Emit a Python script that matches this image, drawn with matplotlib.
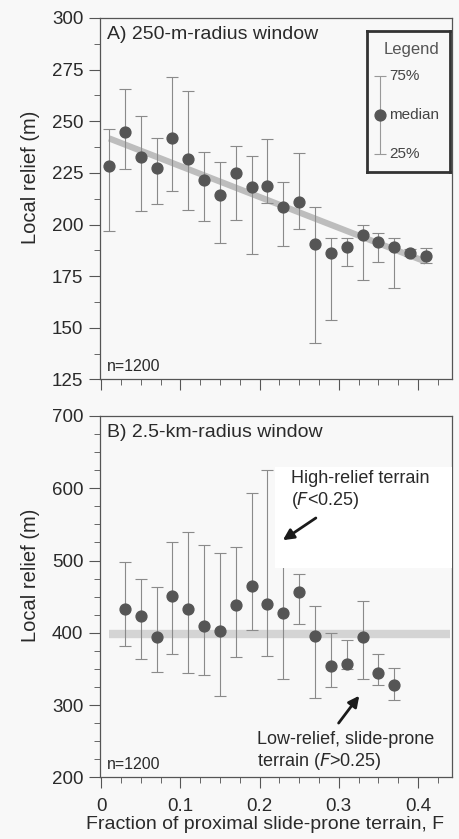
import matplotlib
matplotlib.use("Agg")
import matplotlib.pyplot as plt
from matplotlib.ticker import MultipleLocator
from matplotlib.patches import Rectangle

plt.rcParams['font.family'] = ['Liberation Sans', 'DejaVu Sans']

# ---------------- data ----------------
A_x = [0.01, 0.03, 0.05, 0.07, 0.09, 0.11, 0.13, 0.15, 0.17, 0.19, 0.21,
       0.23, 0.25, 0.27, 0.29, 0.31, 0.33, 0.35, 0.37, 0.39, 0.41]
A_med = [228.5, 245, 232.5, 227.2, 241.7, 231.9, 221.5, 214.1, 224.8, 218.4, 218.7,
         208.6, 211, 190.8, 186.2, 189.3, 194.7, 191.7, 189.1, 186.2, 185]
A_q75 = [246.4, 265.7, 252.6, 241.9, 271.5, 264.7, 235, 230.2, 238, 233.3, 241.3,
         220.4, 234.5, 208.6, 193.7, 193.3, 200, 196, 193.5, 188, 188.8]
A_q25 = [196.7, 227, 206.5, 209.9, 216, 207, 201.5, 191.3, 202.1, 185.7, 210.2,
         189.5, 197.6, 142.5, 153.7, 179.9, 173, 182, 169.4, 185, 181.2]
A_trend_x = [0.01, 0.41]
A_trend_y = [241.7, 182.0]

B_x = [0.03, 0.05, 0.07, 0.09, 0.11, 0.13, 0.15, 0.17, 0.19, 0.21, 0.23,
       0.25, 0.27, 0.29, 0.31, 0.33, 0.35, 0.37]
B_med = [433.1, 423.8, 394.3, 451.5, 433.1, 410, 402.6, 439.1, 464.5, 440.4, 428,
         457.1, 395.7, 354.6, 357.3, 394.3, 344.9, 327.8]
B_q75 = [498.6, 475, 463.6, 526.3, 539.3, 521.7, 510.2, 518.5, 593.3, 625.6, 540,
         482, 437.3, 399.9, 390.2, 444.6, 370.3, 351]
B_q25 = [381.4, 363.4, 345.4, 371.2, 344.9, 341.3, 312.6, 366.6, 404, 368.4, 335.7,
         412.7, 309.8, 325, 350.4, 336.2, 328.3, 307.5]
B_band_x = [0.01, 0.44]
B_band_y = [398, 398]

n_label = "n=1200"
x_ticks = [0, 0.1, 0.2, 0.3, 0.4]
x_ticklabels = ["0", "0.1", "0.2", "0.3", "0.4"]

# ---------------- style ----------------
BG = '#f8f8f8'
MARK = '#555555'
ERR = '#8a8a8a'
TXT = '#2a2a2a'

fig = plt.figure(figsize=(4.6, 8.39), dpi=100, facecolor=BG)
axA = fig.add_axes([0.2174, 0.5477, 0.7652, 0.4309], facecolor=BG)
axB = fig.add_axes([0.2174, 0.0735, 0.7652, 0.4307], facecolor=BG)

XLIM = (-0.0015, 0.443)


def style_axis(ax, ymaj, ymin):
    ax.set_xlim(*XLIM)
    ax.xaxis.set_major_locator(plt.FixedLocator(x_ticks))
    ax.xaxis.set_minor_locator(MultipleLocator(0.025))
    ax.yaxis.set_major_locator(MultipleLocator(ymaj))
    ax.yaxis.set_minor_locator(MultipleLocator(ymin))
    ax.tick_params(which='major', direction='out', length=8, width=0.8, color='#555555',
                   labelsize=13.5, labelcolor=TXT, pad=4)
    ax.tick_params(axis='x', which='major', pad=7)
    ax.tick_params(which='minor', direction='out', length=4, width=0.7, color='#666666')
    for s in ax.spines.values():
        s.set_color('#555555')
        s.set_linewidth(0.9)


def draw_points(ax, xs, med, q75, q25):
    lower = [m - l for m, l in zip(med, q25)]
    upper = [u - m for m, u in zip(med, q75)]
    ax.errorbar(xs, med, yerr=[lower, upper], fmt='none', ecolor=ERR,
                elinewidth=0.8, capsize=4, capthick=0.8, zorder=3)
    ax.plot(xs, med, 'o', color=MARK, markersize=7.8, zorder=4)


# ---------------- Panel A ----------------
style_axis(axA, 25, 12.5)
axA.set_ylim(125, 300)
axA.plot(A_trend_x, A_trend_y, color='#bdbdbd', lw=4.5, solid_capstyle='butt', zorder=2)
draw_points(axA, A_x, A_med, A_q75, A_q25)
axA.tick_params(axis='x', labelbottom=False)
axA.set_ylabel('Local relief (m)', fontsize=14.5, color=TXT)
axA.yaxis.set_label_coords(-0.17, 0.56)
axA.text(0.02, 0.978, 'A) 250-m-radius window', transform=axA.transAxes,
         fontsize=14, color=TXT, va='top', ha='left')
axA.text(0.02, 0.015, n_label, transform=axA.transAxes, fontsize=11.5,
         color=TXT, va='bottom', ha='left')

# legend box
lg = axA.inset_axes([0.758, 0.575, 0.236, 0.389])
lg.set_xlim(0, 1)
lg.set_ylim(0, 1)
lg.set_facecolor(BG)
lg.set_xticks([])
lg.set_yticks([])
for s in lg.spines.values():
    s.set_color('#333333')
    s.set_linewidth(2.0)
lg.text(0.54, 0.865, 'Legend', ha='center', va='center', fontsize=12, color='#555555')
lg.errorbar([0.16], [0.40], yerr=[[0.274], [0.28]], fmt='none', ecolor='#999999',
            elinewidth=0.8, capsize=4, capthick=0.8)
lg.plot([0.16], [0.40], 'o', color=MARK, markersize=7.8)
lg.text(0.27, 0.68, '75%', ha='left', va='center', fontsize=11, color='#444444')
lg.text(0.27, 0.40, 'median', ha='left', va='center', fontsize=11, color='#444444')
lg.text(0.27, 0.126, '25%', ha='left', va='center', fontsize=11, color='#444444')

# ---------------- Panel B ----------------
style_axis(axB, 100, 25)
axB.set_ylim(200, 700)
axB.plot(B_band_x, B_band_y, color='#d0d0d0', lw=6, alpha=0.9, solid_capstyle='butt', zorder=2)
draw_points(axB, B_x, B_med, B_q75, B_q25)
axB.set_xticklabels(x_ticklabels)
axB.set_ylabel('Local relief (m)', fontsize=14.5, color=TXT)
axB.yaxis.set_label_coords(-0.17, 0.56)
axB.set_xlabel('Fraction of proximal slide-prone terrain, F', fontsize=14,
               color=TXT)
axB.xaxis.set_label_coords(0.47, -0.108)
axB.text(0.02, 0.978, 'B) 2.5-km-radius window', transform=axB.transAxes,
         fontsize=14, color=TXT, va='top', ha='left')
axB.text(0.02, 0.015, n_label, transform=axB.transAxes, fontsize=11.5,
         color=TXT, va='bottom', ha='left')

# white annotation box occluding part of the data
axB.add_patch(Rectangle((0.219, 490), 0.5, 140, facecolor='white', edgecolor='none',
                        zorder=5))
axB.text(0.240, 625, 'High-relief terrain', fontsize=13, color=TXT, va='top', ha='left', zorder=6)
axB.text(0.240, 597, '($F$<0.25)', fontsize=13, color=TXT, va='top', ha='left', zorder=6)
axB.annotate('', xy=(0.2265, 526), xytext=(0.274, 561),
             arrowprops=dict(arrowstyle='-|>', lw=2.0, color='#1a1a1a', mutation_scale=16),
             zorder=7)

axB.text(0.197, 264, 'Low-relief, slide-prone', fontsize=13, color=TXT, va='top', ha='left')
axB.text(0.197, 236, 'terrain ($F$>0.25)', fontsize=13, color=TXT, va='top', ha='left')
axB.annotate('', xy=(0.328, 316), xytext=(0.2977, 272),
             arrowprops=dict(arrowstyle='-|>', lw=2.0, color='#1a1a1a', mutation_scale=16))

fig.savefig('out.png', dpi=100, facecolor=BG)
